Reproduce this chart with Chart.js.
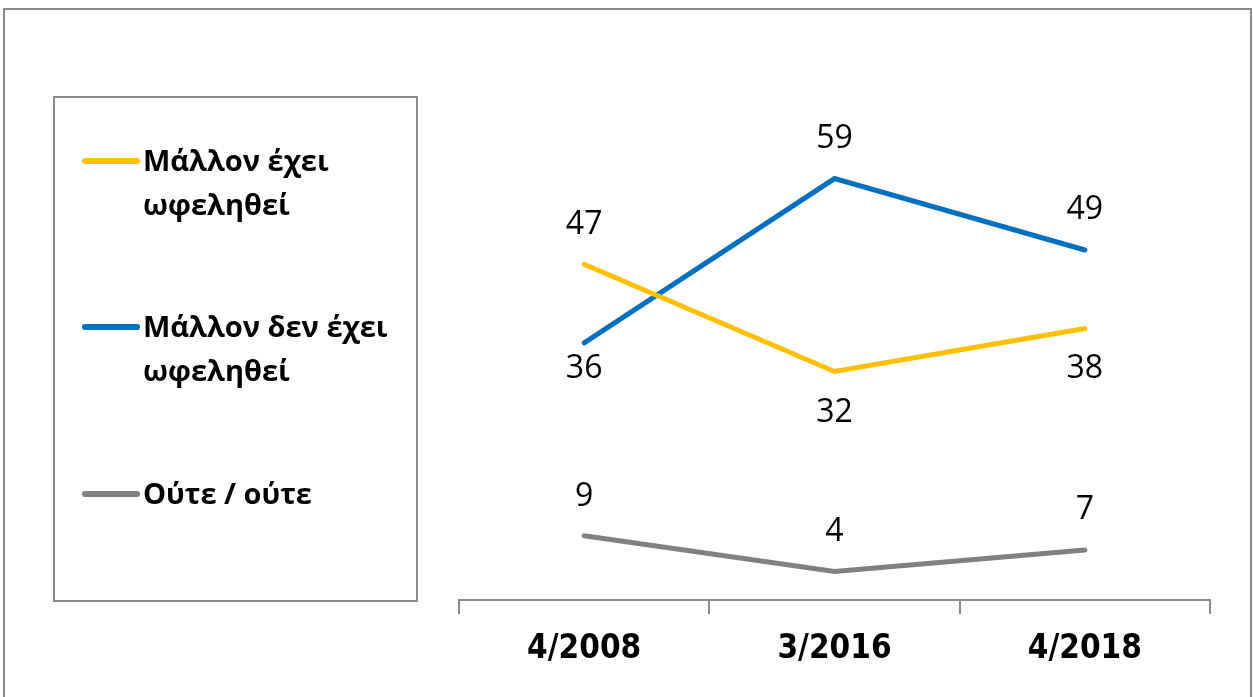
<!DOCTYPE html>
<html>
<head>
<meta charset="utf-8">
<script src="https://cdn.jsdelivr.net/npm/chart.js@4"></script>
<style>
  html, body { margin: 0; padding: 0; background: #fff; overflow: hidden; }
  #frame { position: absolute; left: 3px; top: 8px; width: 1245px; height: 700px; border: 2px solid #8a8a8a; border-bottom: none; }
  #wrap { position: absolute; left: 0; top: 0; width: 1253px; height: 697px; }
  #legend { position: absolute; left: 53px; top: 96px; width: 361px; height: 502px; border: 2px solid #8a8a8a; font-family: "Open Sans", sans-serif; font-weight: bold; font-size: 29px; color: #000; }
  .item { position: absolute; left: 27px; display: flex; align-items: flex-start; }
  .swatch { width: 58px; height: 6px; border-radius: 3px; margin-top: 20px; margin-right: 3px; flex: none; }
  .label { line-height: 44px; width: 270px; }
</style>
</head>
<body>
<div id="frame"></div>
<div id="wrap"><canvas id="chart" width="1253" height="697"></canvas></div>
<div id="legend"></div>
<script>
// Data
const categories = ["4/2008", "3/2016", "4/2018"];
const seriesNames = ["Μάλλον έχει ωφεληθεί", "Μάλλον δεν έχει ωφεληθεί", "Ούτε / ούτε"];
const benefited = [47, 32, 38];
const notBenefited = [36, 59, 49];
const neither = [9, 4, 7];

const colors = ["#FFC000", "#0070C0", "#808080"];
// label offset from each point (negative = above)
const labelOffsets = [[-39, 41, 40], [26, -40, -40], [-39, -40, -40]];

// Data labels plugin
const dataLabels = {
  id: "dataLabels",
  afterDatasetsDraw(chart) {
    const ctx = chart.ctx;
    ctx.save();
    ctx.font = "32px 'Open Sans', sans-serif";
    ctx.fillStyle = "#000";
    ctx.textAlign = "center";
    ctx.textBaseline = "middle";
    chart.data.datasets.forEach((ds, i) => {
      chart.getDatasetMeta(i).data.forEach((pt, j) => {
        ctx.fillText(ds.data[j], pt.x, pt.y + labelOffsets[i][j]);
      });
    });
    ctx.restore();
  }
};

const ctx = document.getElementById("chart").getContext("2d");
const chart = new Chart(ctx, {
  type: "line",
  data: {
    labels: categories,
    datasets: [benefited, notBenefited, neither].map((d, i) => ({
      label: seriesNames[i],
      data: d,
      borderColor: colors[i],
      backgroundColor: colors[i],
      borderWidth: 5,
      borderCapStyle: "round",
      pointRadius: 0,
      tension: 0,
      fill: false
    }))
  },
  options: {
    responsive: false,
    animation: false,
    layout: { padding: { left: 459, right: 43, top: 100, bottom: 0 } },
    plugins: { legend: { display: false }, tooltip: { enabled: false } },
    scales: {
      y: { display: false, min: 0, max: 70 },
      x: {
        offset: true,
        grid: { offset: true, drawOnChartArea: false, color: "#8a8a8a", tickLength: 14, lineWidth: 2 },
        border: { color: "#8a8a8a", width: 2 },
        ticks: { color: "#000", font: { family: "'Liberation Sans Narrow', 'DejaVu Sans Condensed', sans-serif", size: 33, weight: "bold" }, padding: 16, maxRotation: 0 },
        afterFit(scale) { scale.height = 97; }
      }
    }
  },
  plugins: [dataLabels]
});

// HTML legend
const legend = document.getElementById("legend");
const itemTops = [40, 206, 373];
seriesNames.forEach((name, i) => {
  const item = document.createElement("div");
  item.className = "item";
  item.style.top = itemTops[i] + "px";
  const sw = document.createElement("div");
  sw.className = "swatch";
  sw.style.background = colors[i];
  const lab = document.createElement("div");
  lab.className = "label";
  lab.textContent = name;
  item.appendChild(sw);
  item.appendChild(lab);
  legend.appendChild(item);
});
</script>
</body>
</html>
